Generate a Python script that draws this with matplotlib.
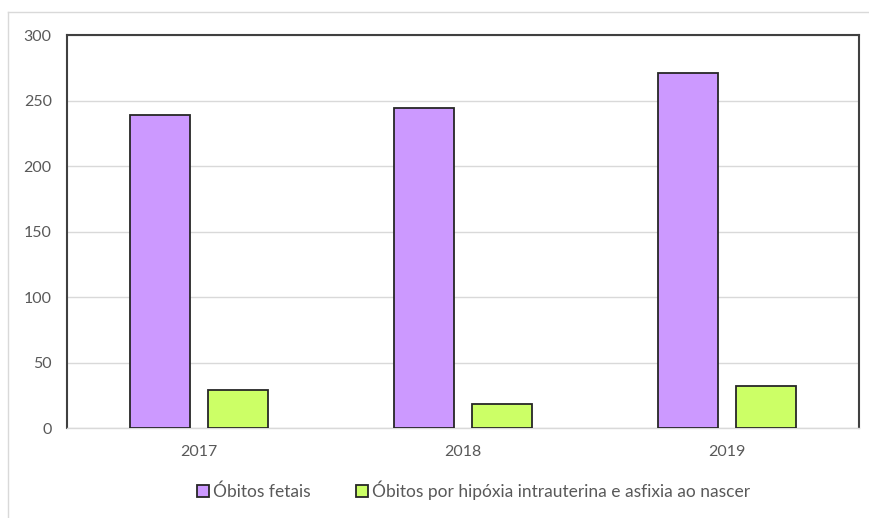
import numpy as np
import matplotlib.pyplot as plt
from matplotlib.lines import Line2D

years = ['2017', '2018', '2019']
fetal = [239, 244, 271]
hypoxia = [29, 18, 32]
labels = ['Óbitos fetais', 'Óbitos por hipóxia intrauterina e asfixia ao nascer']

plt.rcParams['font.family'] = ['Lato', 'DejaVu Sans']

fig = plt.figure(figsize=(8.69, 5.18), dpi=100)
ax = fig.add_axes([0.0771, 0.1737, 0.9114, 0.7587])

x = np.arange(len(years))
width = 0.227
offset = 0.146

ax.bar(x - offset, fetal, width, color='#CC99FF', edgecolor='#262626',
       linewidth=1.3, label=labels[0], zorder=3)
ax.bar(x + offset, hypoxia, width, color='#CCFF66', edgecolor='#262626',
       linewidth=1.3, label=labels[1], zorder=3)

ax.set_xlim(-0.5, 2.5)
ax.set_ylim(0, 300)
ax.set_yticks(range(0, 301, 50))
ax.set_xticks(x)
ax.set_xticklabels(years)

ax.grid(axis='y', color='#d9d9d9', linewidth=1, zorder=0)
ax.tick_params(length=0, labelsize=11.5, labelcolor='#595959')
ax.tick_params(axis='y', pad=11)
ax.tick_params(axis='x', pad=12)

for side in ['top', 'left', 'right']:
    ax.spines[side].set_color('#404040')
    ax.spines[side].set_linewidth(1.5)
ax.spines['bottom'].set_color('#d9d9d9')
ax.spines['bottom'].set_linewidth(1)

leg = fig.legend(loc='center', bbox_to_anchor=(0.545, 0.054), ncol=2,
                 frameon=False, fontsize=12.5, handlelength=0.7,
                 handleheight=0.7, handletextpad=0.25, columnspacing=2.6)
for t in leg.get_texts():
    t.set_color('#595959')

# outer chart border
fig.add_artist(Line2D([8 / 869, 1.0], [1 - 12 / 518, 1 - 12 / 518],
                      transform=fig.transFigure, color='#d9d9d9', linewidth=1))
fig.add_artist(Line2D([8 / 869, 8 / 869], [1 - 12 / 518, 0.0],
                      transform=fig.transFigure, color='#d9d9d9', linewidth=1))

fig.savefig('out.png', dpi=100)
